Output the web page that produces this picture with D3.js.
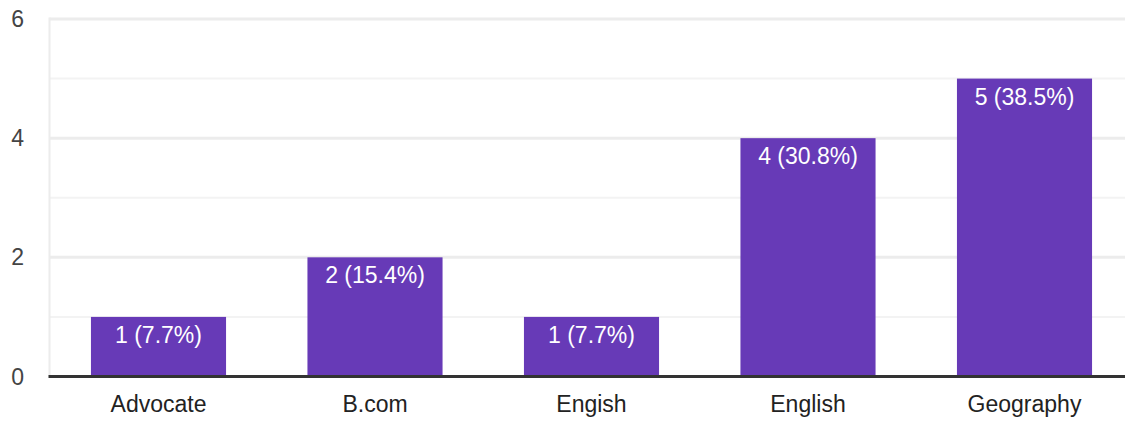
<!DOCTYPE html>
<html>
<head>
<meta charset="utf-8">
<script src="https://cdn.jsdelivr.net/npm/d3@7"></script>
<style>
  html, body { margin: 0; padding: 0; background: #fff; }
  svg { display: block; font-family: "Liberation Sans", Arial, sans-serif; }
</style>
</head>
<body>
<svg id="chart" width="1125" height="421"></svg>
<script>
// Responses per subject
const categories = ["Advocate", "B.com", "Engish", "English", "Geography"];
const counts = [1, 2, 1, 4, 5];
const percents = ["7.7%", "15.4%", "7.7%", "30.8%", "38.5%"];
const yTicks = [0, 2, 4, 6];
const yGrid = [1, 2, 3, 4, 5, 6];

const svg = d3.select("#chart");
const W = 1125, H = 421;

const x = d3.scaleBand()
  .domain(categories)
  .range([50.25, 1132.75])
  .paddingInner(0.376)
  .paddingOuter(0.188);

const y = d3.scaleLinear().domain([0, 6]).range([376.5, 19]);

const plotLeft = 49.5;

// Gridlines: even values heavier, odd values lighter
svg.append("g")
  .selectAll("line")
  .data(yGrid)
  .join("line")
  .attr("x1", plotLeft)
  .attr("x2", W)
  .attr("y1", d => y(d))
  .attr("y2", d => y(d))
  .attr("stroke", d => d % 2 === 0 ? "#ececec" : "#f3f3f3")
  .attr("stroke-width", d => d % 2 === 0 ? 3 : 2);

// Left plot edge
svg.append("line")
  .attr("x1", plotLeft).attr("x2", plotLeft)
  .attr("y1", y(6) - 1.5).attr("y2", y(0))
  .attr("stroke", "#ececec")
  .attr("stroke-width", 2);

// Y axis labels
svg.append("g")
  .selectAll("text")
  .data(yTicks)
  .join("text")
  .attr("x", 24)
  .attr("y", d => y(d))
  .attr("dy", "0.35em")
  .attr("text-anchor", "end")
  .attr("font-size", 23)
  .attr("fill", "#444")
  .text(d => d);

const data = categories.map((c, i) => ({ c, v: counts[i], p: percents[i] }));

// Bars
svg.append("g")
  .selectAll("rect")
  .data(data)
  .join("rect")
  .attr("x", d => x(d.c))
  .attr("y", d => y(d.v))
  .attr("width", x.bandwidth())
  .attr("height", d => y(0) - y(d.v))
  .attr("fill", "#673ab7");

// Value labels inside bars
svg.append("g")
  .selectAll("text")
  .data(data)
  .join("text")
  .attr("x", d => x(d.c) + x.bandwidth() / 2)
  .attr("y", d => y(d.v) + 26)
  .attr("text-anchor", "middle")
  .attr("font-size", 23)
  .attr("fill", "#ffffff")
  .text(d => `${d.v} (${d.p})`);

// Baseline
svg.append("line")
  .attr("x1", plotLeft - 1).attr("x2", W)
  .attr("y1", y(0)).attr("y2", y(0))
  .attr("stroke", "#333333")
  .attr("stroke-width", 3);

// Category labels
svg.append("g")
  .selectAll("text")
  .data(categories)
  .join("text")
  .attr("x", d => x(d) + x.bandwidth() / 2)
  .attr("y", 412)
  .attr("text-anchor", "middle")
  .attr("font-size", 23)
  .attr("fill", "#222")
  .text(d => d);
</script>
</body>
</html>
